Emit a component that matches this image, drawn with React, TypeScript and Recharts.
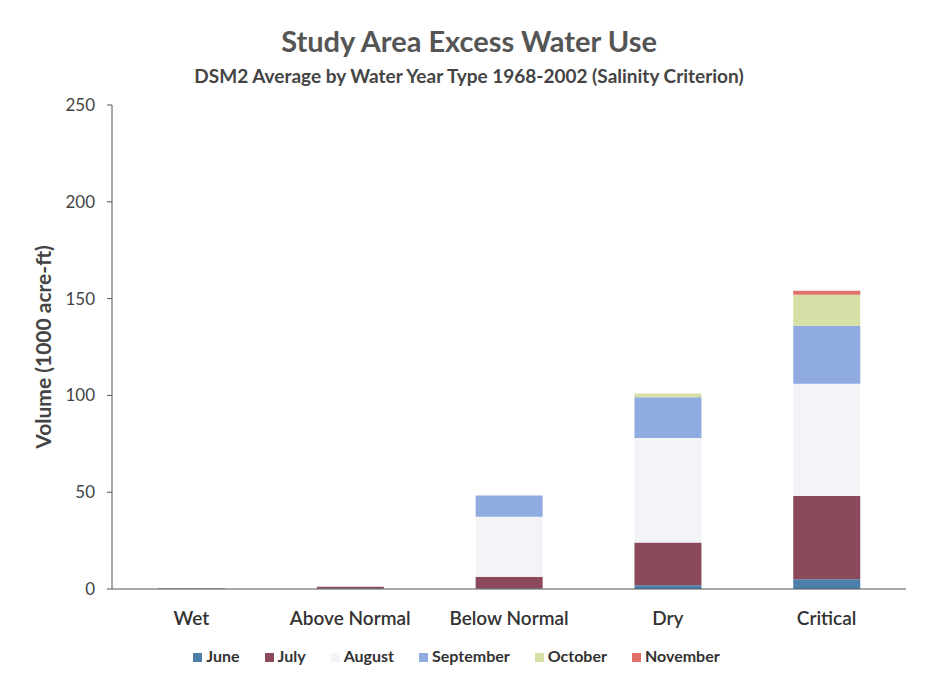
import React from 'react';
import { BarChart, Bar, XAxis, YAxis, Legend } from 'recharts';

const categories = ['Wet', 'Above Normal', 'Below Normal', 'Dry', 'Critical'];
const june = [0, 0.3, 0.3, 2, 5];
const july = [0.2, 0.8, 6, 22, 43];
const august = [0, 0, 31, 54, 58];
const september = [0, 0, 11, 21, 30];
const october = [0, 0, 0, 2, 16];
const november = [0, 0, 0, 0, 2];
const yTicks = [0, 50, 100, 150, 200, 250];

const series = [
    { key: 'June', values: june, color: '#4d7fab' },
    { key: 'July', values: july, color: '#8a4a5c' },
    { key: 'August', values: august, color: '#f4f4f8' },
    { key: 'September', values: september, color: '#8fabe0' },
    { key: 'October', values: october, color: '#d6dfa6' },
    { key: 'November', values: november, color: '#e07068' },
];

const data = categories.map((name, i) => {
    const row: Record<string, string | number> = { name };
    series.forEach(s => { row[s.key] = s.values[i]; });
    return row;
});

const font = 'Lato, "Open Sans", sans-serif';
const order = series.map(s => s.key);

const App = () => {
    return (
        <div style={{ position: 'absolute', left: 0, top: 0, width: 934, height: 684, background: '#fff', fontFamily: font }}>
            <div style={{ position: 'absolute', top: 23, width: 934, left: 2, textAlign: 'center', fontSize: 29, fontWeight: 700, color: '#555' }}>
                Study Area Excess Water Use
            </div>
            <div style={{ position: 'absolute', top: 64, width: 934, left: 2, textAlign: 'center', fontSize: 19, fontWeight: 700, color: '#444' }}>
                DSM2 Average by Water Year Type 1968-2002 (Salinity Criterion)
            </div>
            <div style={{ position: 'absolute', left: 0, top: 0 }}>
                <BarChart
                    width={934}
                    height={684}
                    data={data}
                    margin={{ top: 105, right: 28, left: 32, bottom: 19 }}
                    barCategoryGap="29%"
                >
                    <XAxis
                        dataKey="name"
                        axisLine={{ stroke: '#555' }}
                        tickLine={false}
                        tick={{ fontSize: 19, fill: '#333', fontFamily: font, fontWeight: 600 }}
                        tickMargin={17}
                        height={57}
                    />
                    <YAxis
                        domain={[0, 250]}
                        ticks={yTicks}
                        width={80}
                        axisLine={{ stroke: '#555' }}
                        tickLine={{ stroke: '#555' }}
                        tickSize={5}
                        tickMargin={12}
                        tick={{ fontSize: 17, fill: '#444', fontFamily: font }}
                        label={{ value: 'Volume (1000 acre-ft)', angle: -90, position: 'insideLeft', offset: 12, style: { fontSize: 21, fontWeight: 700, fill: '#444', fontFamily: font, textAnchor: 'middle' } }}
                    />
                    <Legend
                        verticalAlign="bottom"
                        iconType="square"
                        iconSize={9}
                        itemSorter={(item: any) => order.indexOf(item.dataKey)}
                        wrapperStyle={{ fontSize: 16, fontWeight: 700, fontFamily: font }}
                        formatter={(value: string) => <span style={{ color: '#333', paddingRight: 15 }}>{value}</span>}
                    />
                    {series.map(s => (
                        <Bar key={s.key} dataKey={s.key} stackId="a" fill={s.color} isAnimationActive={false} />
                    ))}
                </BarChart>
            </div>
        </div>
    );
};

export default App;
